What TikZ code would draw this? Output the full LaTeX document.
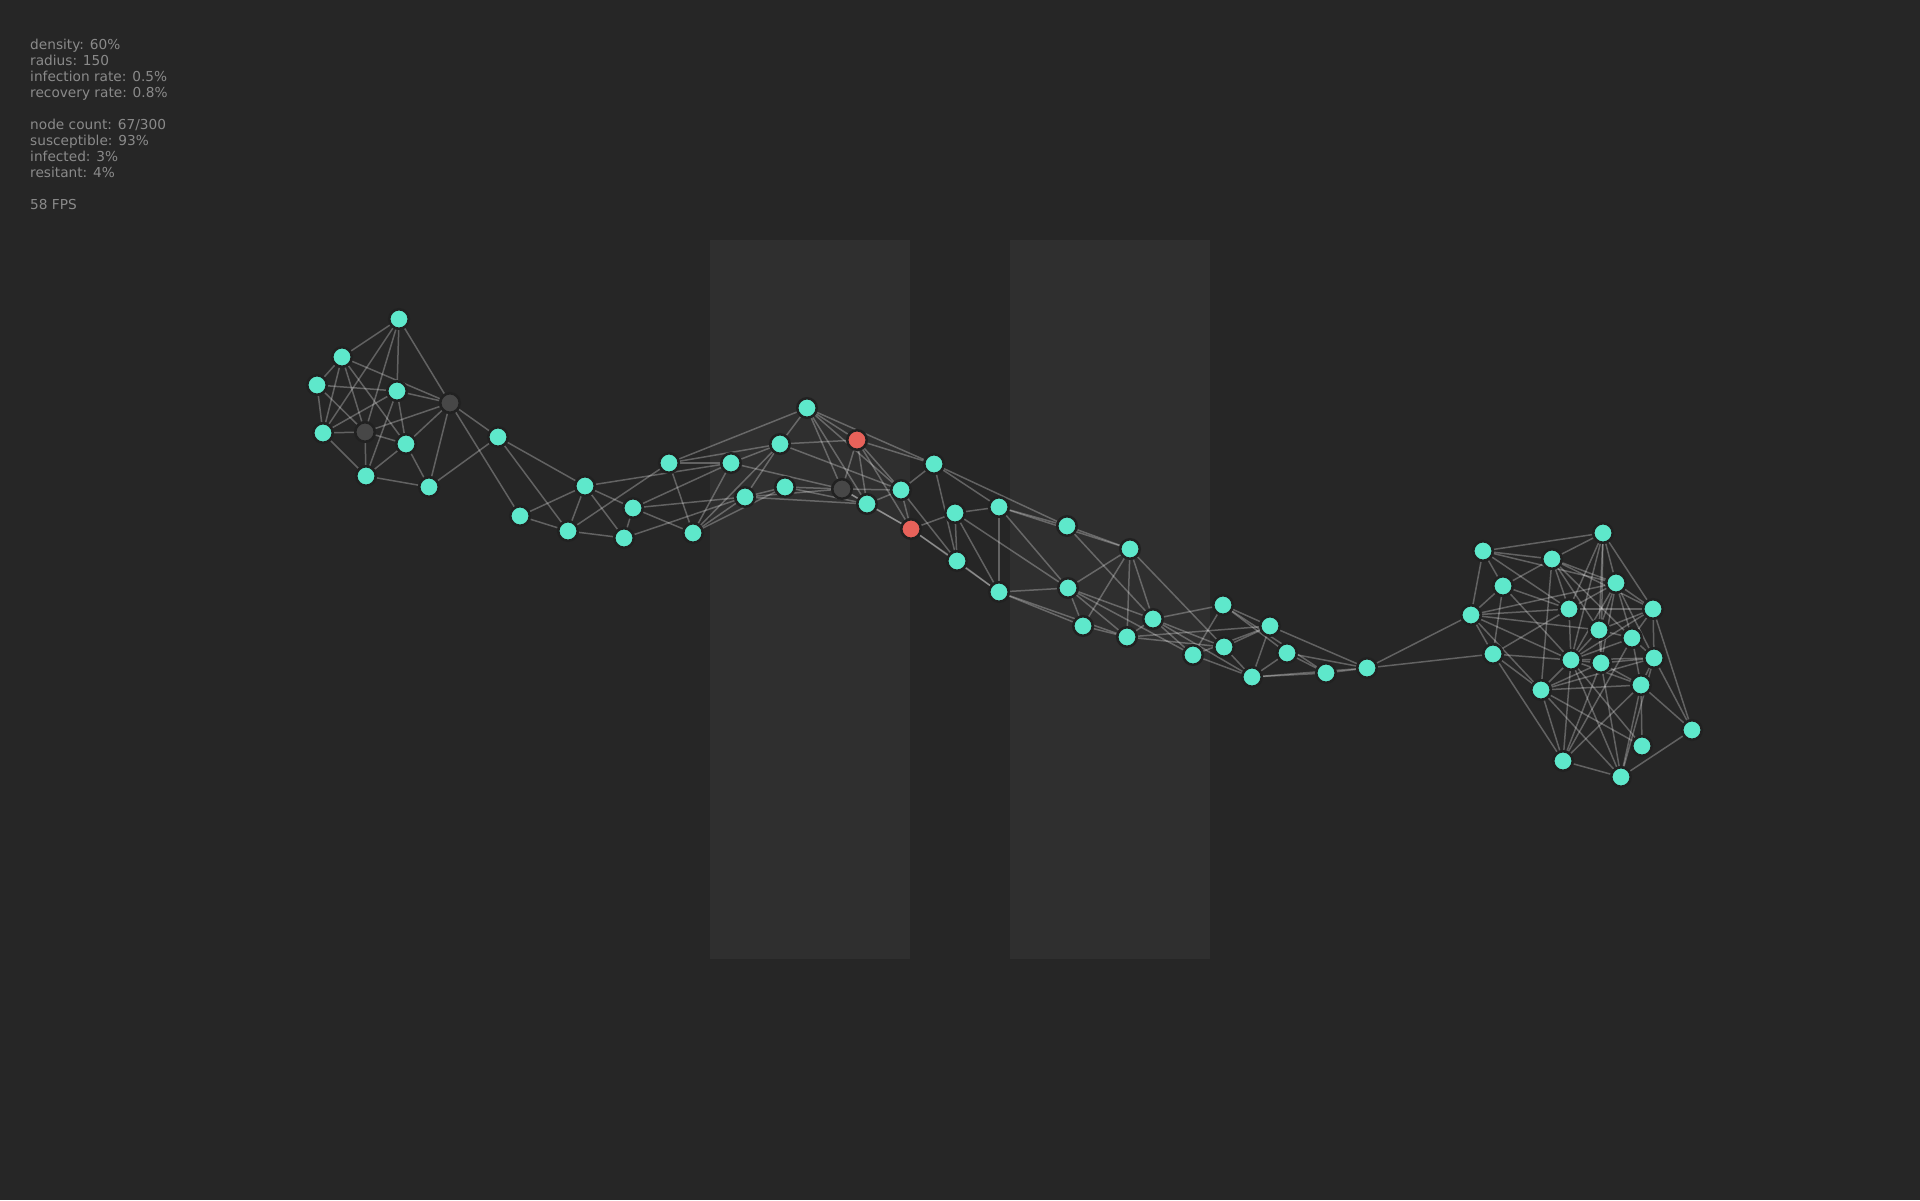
\documentclass[tikz,border=0pt]{standalone}
\usepackage{xcolor}
\usepackage{fontspec}
\setmainfont{DejaVu Sans}
\usepackage{tikz}
\usetikzlibrary{arrows.meta}
\definecolor{bgdark}{HTML}{262626}
\definecolor{bandgray}{HTML}{2F2F2F}
\definecolor{statgray}{HTML}{8A8A8A}
\definecolor{susteal}{HTML}{5EE8CB}
\definecolor{infred}{HTML}{E8625A}
\definecolor{resgray}{HTML}{474747}
\definecolor{ringdark}{HTML}{212121}
\pgfdeclarelayer{bg}
\pgfdeclarelayer{edges}
\pgfsetlayers{bg,edges,main}
\tikzset{
  agent/.style={circle, inner sep=0pt, minimum size=19.5pt, line width=2.5pt, draw=ringdark},
  susnode/.style={agent, fill=susteal},
  infnode/.style={agent, fill=infred},
  resnode/.style={agent, fill=resgray},
  edgeline/.style={draw=white, draw opacity=0.28, line width=1.5pt},
  statline/.style={anchor=base west, inner sep=0pt, text=statgray, font=\fontsize{13.7}{16}\selectfont}
}

\begin{document}
\begin{tikzpicture}[x=1pt, y=-1pt]
    \begin{pgfonlayer}{bg}
      \fill[bgdark] (0,0) rectangle (1920,1200);
      \fill[bandgray] (710,240) rectangle (910,959);
      \fill[bandgray] (1010,240) rectangle (1210,959);
    \end{pgfonlayer}
    \useasboundingbox (0,0) rectangle (1920,1200);

    \node[statline] (density) at (30,49) {density: 60\%};
    \node[statline] (radius) at (30,65) {radius: 150};
    \node[statline] (infrate) at (30,81) {infection rate: 0.5\%};
    \node[statline] (recrate) at (30,97) {recovery rate: 0.8\%};
    \node[statline] (count) at (30,129) {node count: 67/300};
    \node[statline] (suscept) at (30,145) {susceptible: 93\%};
    \node[statline] (infected) at (30,161) {infected: 3\%};
    \node[statline] (resist) at (30,177) {resitant: 4\%};
    \node[statline] (fps) at (30,209) {58 FPS};

    \foreach \n/\x/\y in {a1/399/319, a2/342/357, a3/317/385, a4/397/391, a6/323/433,
        a8/406/444, a9/498/437, a10/366/476, a11/429/487,
        b2/520/516, b3/585/486, b4/568/531, b5/633/508, b6/624/538, b7/669/463,
        b8/693/533, b9/731/463, b10/745/497,
        c3/807/408, c4/780/444, c7/785/487, c9/867/504, c10/901/490,
        d1/934/464, d2/955/513, d3/999/507, d4/957/561, d5/999/592, d6/1067/526,
        e1/1130/549, e2/1068/588, e3/1083/626, e4/1127/637, e5/1153/619,
        e6/1223/605, e7/1270/626, e8/1224/647, e9/1193/655, e10/1252/677,
        f1/1287/653, f2/1326/673, f3/1367/668,
        g1/1603/533, g2/1483/551, g3/1552/559, g4/1503/586, g5/1616/583,
        g6/1471/615, g7/1569/609, g8/1653/609, g9/1599/630, g10/1632/638,
        g11/1493/654, g12/1571/660, g13/1601/663, g14/1654/658, g15/1541/690,
        g16/1641/685, g17/1692/730, g18/1642/746, g19/1563/761, g20/1621/777}
      \node[susnode] (\n) at (\x,\y) {};
    \node[infnode] (c5) at (857,440) {};
    \node[infnode] (c11) at (911,529) {};
    \node[resnode] (a5) at (450,403) {};
    \node[resnode] (a7) at (365,432) {};
    \node[resnode] (c8) at (842,489) {};

    \begin{pgfonlayer}{edges}
      \foreach \u/\v in {a1/a2, a1/a4, a1/a5, a1/a6, a1/a7, a2/a3, a2/a5, a2/a6, a2/a7, a2/a8,
          a3/a4, a3/a6, a3/a7, a4/a5, a4/a6, a4/a8, a4/a10, a5/a7, a5/a8, a5/a9, a5/a11,
          a5/b2, a6/a7, a6/a10, a7/a8, a7/a10, a8/a10, a8/a11, a10/a11, a9/a11, a9/b3, a9/b4,
          b2/b3, b2/b4, b3/b4, b3/b5, b3/b6, b3/b9, b4/b6, b4/b7, b5/b6, b5/b8, b5/b9, b5/b10,
          b6/b10, b7/b8, b7/b9, b7/c3, b7/c4, b8/b9, b8/b10, b8/c4, b8/c7, b9/c4, b9/c8,
          b10/c4, b10/c7, b10/c8, b10/c9,
          c3/c4, c3/c5, c3/c8, c3/c9, c3/c10, c3/d1, c4/c5, c4/c10, c5/c8, c5/c9, c5/c10,
          c5/c11, c5/d1, c7/c8, c7/c9, c8/c9, c8/c10, c8/c11, c9/c10, c9/c11, c10/c11,
          c10/d1, c10/d4, c11/d2, c11/d4, c11/d5,
          d1/d3, d1/d4, d1/d6, d2/d3, d2/d4, d2/d5, d2/e2, d3/d5, d3/d6, d3/e1, d3/e2,
          d4/d5, d5/e2, d5/e3, d5/e4, d6/e1, d6/e5,
          e1/e2, e1/e3, e1/e4, e1/e5, e1/e8, e2/e3, e2/e4, e2/e5, e2/e9, e3/e4, e4/e5,
          e4/e7, e4/e8, e5/e6, e5/e8, e5/e9, e5/e10, e6/e7, e6/e9, e6/f1, e6/f2, e7/e8,
          e7/e9, e7/e10, e7/f3, e8/e10, e9/e10, e10/f1, e10/f2, e10/f3,
          f1/f2, f1/f3, f2/f3, f3/g6, f3/g11,
          g1/g2, g1/g3, g1/g5, g1/g7, g1/g8, g1/g9, g1/g12, g1/g13,
          g2/g3, g2/g4, g2/g5, g2/g6, g2/g7,
          g3/g4, g3/g5, g3/g7, g3/g8, g3/g9, g3/g10, g3/g15,
          g4/g6, g4/g7, g4/g11, g4/g12,
          g5/g6, g5/g7, g5/g8, g5/g9, g5/g10, g5/g12, g5/g13, g5/g14,
          g6/g7, g6/g9, g6/g11, g6/g12, g6/g15,
          g7/g8, g7/g11, g7/g12,
          g8/g9, g8/g10, g8/g12, g8/g14, g8/g17,
          g9/g10, g9/g12, g9/g13,
          g10/g12, g10/g14, g10/g16, g10/g19,
          g11/g12, g11/g15, g11/g19,
          g12/g13, g12/g14, g12/g15, g12/g16, g12/g18, g12/g19, g12/g20,
          g13/g14, g13/g15, g13/g16, g13/g19, g13/g20,
          g14/g15, g14/g16, g14/g17, g14/g20,
          g15/g16, g15/g18, g15/g19, g15/g20,
          g16/g17, g16/g18, g16/g19, g16/g20,
          g17/g20, g19/g20}
        \draw[edgeline] (\u) -- (\v);
    \end{pgfonlayer}
  \end{tikzpicture}
\end{document}
